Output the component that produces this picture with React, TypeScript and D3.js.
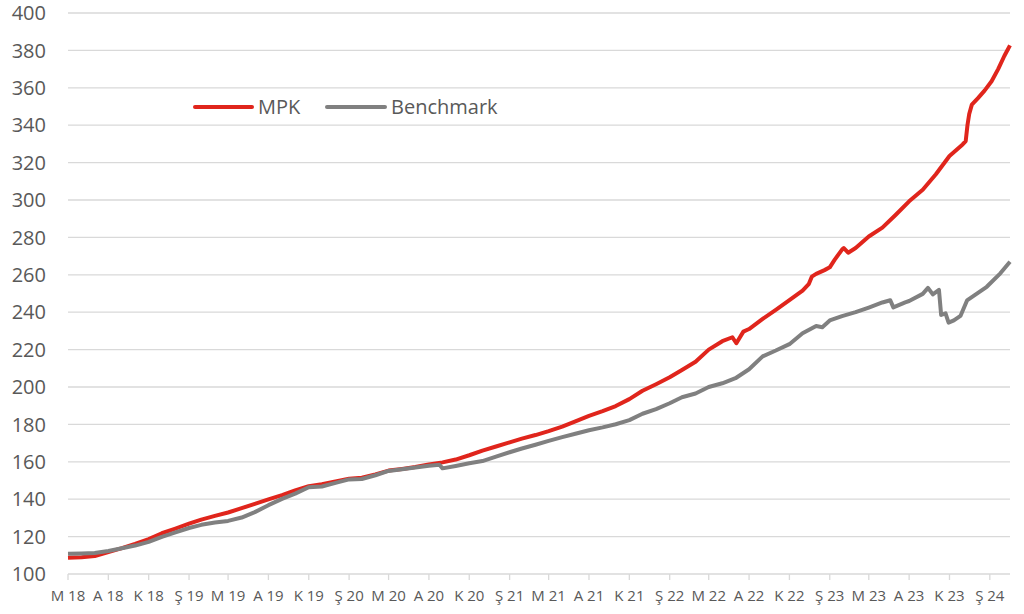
import React from 'react';
import * as d3 from 'd3';

// MPK index
const mpkDates = [
  '2018-05-01', '2018-06-01', '2018-07-01', '2018-08-01', '2018-09-01', '2018-10-01', '2018-11-01', '2018-12-01',
  '2019-01-01', '2019-02-01', '2019-03-01', '2019-04-01', '2019-05-01', '2019-06-01', '2019-07-01', '2019-08-01',
  '2019-09-01', '2019-10-01', '2019-11-01', '2019-12-01', '2020-01-01', '2020-02-01', '2020-03-01', '2020-04-01',
  '2020-05-01', '2020-06-01', '2020-07-01', '2020-08-01', '2020-09-01', '2020-10-01', '2020-11-01', '2020-12-01',
  '2021-01-01', '2021-02-01', '2021-03-01', '2021-04-01', '2021-05-01', '2021-06-01', '2021-07-01', '2021-08-01',
  '2021-09-01', '2021-10-01', '2021-11-01', '2021-12-01', '2022-01-01', '2022-02-01', '2022-03-01', '2022-04-01',
  '2022-05-01', '2022-06-01', '2022-06-24', '2022-07-03', '2022-07-19', '2022-08-01', '2022-09-01', '2022-10-01',
  '2022-11-01', '2022-12-01', '2022-12-15', '2022-12-22', '2023-01-01', '2023-01-20', '2023-02-01', '2023-02-12',
  '2023-03-01', '2023-03-05', '2023-03-15', '2023-04-01', '2023-05-01', '2023-06-01', '2023-07-01', '2023-08-01',
  '2023-09-01', '2023-10-01', '2023-11-01', '2023-12-01', '2023-12-08', '2023-12-12', '2023-12-16', '2023-12-22',
  '2024-01-05', '2024-01-20', '2024-02-05', '2024-02-20', '2024-03-05', '2024-03-18',
];
const mpkValues = [
  108.7, 109.0, 109.6, 111.7, 113.8, 116.1, 118.7, 121.8,
  124.3, 126.9, 129.1, 131.1, 132.9, 135.2, 137.5, 139.9,
  142.2, 144.7, 147.0, 148.0, 149.5, 151.0, 151.5, 153.3,
  155.3, 156.2, 157.2, 158.6, 159.7, 161.2, 163.5, 166.0,
  168.2, 170.4, 172.4, 174.3, 176.4, 178.8, 181.6, 184.6,
  187.1, 189.8, 193.5, 198.0, 201.5, 205.2, 209.1, 213.5,
  220.0, 224.5, 226.6, 223.4, 229.6, 231.0, 236.4, 241.3,
  246.5, 251.5, 255.0, 259.0, 260.5, 262.5, 264.0, 268.0,
  273.5, 274.3, 271.8, 274.3, 280.5, 285.2, 292.0, 299.3,
  305.5, 313.8, 323.5, 329.7, 331.5, 340.0, 346.0, 351.0,
  354.5, 358.5, 363.5, 370.0, 377.0, 382.7,
];

// Benchmark index
const benchDates = [
  '2018-05-01', '2018-06-01', '2018-07-01', '2018-08-01', '2018-09-01', '2018-10-01', '2018-11-01', '2018-12-01',
  '2019-01-01', '2019-02-01', '2019-03-01', '2019-04-01', '2019-05-01', '2019-06-01', '2019-07-01', '2019-08-01',
  '2019-09-01', '2019-10-01', '2019-11-01', '2019-12-01', '2020-01-01', '2020-02-01', '2020-03-01', '2020-04-01',
  '2020-05-01', '2020-06-01', '2020-07-01', '2020-08-01', '2020-08-25', '2020-09-01', '2020-10-01', '2020-11-01',
  '2020-12-01', '2021-01-01', '2021-02-01', '2021-03-01', '2021-04-01', '2021-05-01', '2021-06-01', '2021-07-01',
  '2021-08-01', '2021-09-01', '2021-10-01', '2021-11-01', '2021-12-01', '2022-01-01', '2022-02-01', '2022-03-01',
  '2022-04-01', '2022-05-01', '2022-06-01', '2022-07-01', '2022-08-01', '2022-09-01', '2022-10-01', '2022-11-01',
  '2022-12-01', '2023-01-01', '2023-01-15', '2023-02-01', '2023-03-01', '2023-04-01', '2023-05-01', '2023-06-01',
  '2023-06-19', '2023-06-26', '2023-07-23', '2023-08-01', '2023-09-01', '2023-09-13', '2023-09-24', '2023-10-08',
  '2023-10-13', '2023-10-23', '2023-10-30', '2023-11-11', '2023-11-26', '2023-12-11', '2023-12-26', '2024-01-25',
  '2024-02-25', '2024-03-18',
];
const benchValues = [
  110.8, 111.0, 111.2, 112.3, 113.8, 115.2, 117.2, 119.9,
  122.3, 124.6, 126.3, 127.5, 128.4, 130.2, 133.1, 136.8,
  140.2, 143.0, 146.4, 146.8, 148.7, 150.6, 150.8, 152.8,
  155.1, 156.0, 156.9, 157.9, 158.4, 156.5, 157.8, 159.2,
  160.4, 162.8, 165.1, 167.1, 169.1, 171.2, 173.2, 175.0,
  176.9, 178.4, 180.1, 182.3, 185.7, 188.2, 191.3, 194.5,
  196.5, 200.0, 202.0, 204.7, 209.5, 216.4, 219.5, 222.9,
  228.7, 232.6, 232.0, 235.6, 237.9, 240.0, 242.5, 245.2,
  246.4, 242.6, 245.3, 246.0, 249.8, 253.0, 249.5, 251.9,
  238.5, 239.4, 234.4, 235.6, 238.0, 246.3, 248.7, 253.6,
  260.8, 267.0,
];

// quarterly axis labels (Turkish month initials), starting May 2018
const xTickLabels = [
  'M 18', 'A 18', 'K 18', 'Ş 19', 'M 19', 'A 19', 'K 19', 'Ş 20', 'M 20', 'A 20', 'K 20', 'Ş 21',
  'M 21', 'A 21', 'K 21', 'Ş 22', 'M 22', 'A 22', 'K 22', 'Ş 23', 'M 23', 'A 23', 'K 23', 'Ş 24',
];
const yTicks = [100, 120, 140, 160, 180, 200, 220, 240, 260, 280, 300, 320, 340, 360, 380, 400];

const seriesNames = ['MPK', 'Benchmark'];
const seriesColors = ['#e0251c', '#808080'];

const W = 1024;
const H = 614;
const left = 68;
const right = 1010;
const top = 13;
const bottom = 574;

const parse = d3.timeParse('%Y-%m-%d');
const font = '"Open Sans", "Noto Sans", sans-serif';

export default function App() {
  const x = d3.scaleTime()
    .domain([parse('2018-05-01'), parse('2024-03-18')])
    .range([left, right]);
  const y = d3.scaleLinear().domain([100, 400]).range([bottom, top]);

  const tickDates = d3.timeMonth.range(parse('2018-05-01'), parse('2024-03-01'), 3);

  const mpk = mpkDates.map((d, i) => ({ date: parse(d), value: mpkValues[i] }));
  const bench = benchDates.map((d, i) => ({ date: parse(d), value: benchValues[i] }));

  const line = d3.line<{ date: Date; value: number }>()
    .x(d => x(d.date))
    .y(d => y(d.value));

  return (
    <svg width={W} height={H} style={{ position: 'absolute', left: 0, top: 0, background: '#fff' }}>
      {/* gridlines */}
      {yTicks.map(t => (
        <line key={t} x1={left} x2={right} y1={y(t)} y2={y(t)} stroke="#d9d9d9" strokeWidth={1.3} />
      ))}
      {/* x axis ticks */}
      {tickDates.map((d, i) => (
        <line key={i} x1={x(d)} x2={x(d)} y1={bottom} y2={bottom + 6} stroke="#d9d9d9" strokeWidth={1.3} />
      ))}
      {/* y labels */}
      {yTicks.map(t => (
        <text key={t} x={46} y={y(t)} dy="0.36em" textAnchor="end" fontFamily={font} fontSize={20} fill="#595959">
          {t}
        </text>
      ))}
      {/* x labels */}
      {tickDates.map((d, i) => (
        <text key={i} x={x(d)} y={601} textAnchor="middle" fontFamily={font} fontSize={15} fill="#595959">
          {xTickLabels[i]}
        </text>
      ))}
      {/* series */}
      <path d={line(mpk) ?? ''} fill="none" stroke={seriesColors[0]} strokeWidth={4} strokeLinejoin="round" />
      <path d={line(bench) ?? ''} fill="none" stroke={seriesColors[1]} strokeWidth={4} strokeLinejoin="round" />
      {/* legend */}
      <g fontFamily={font} fontSize={20} fill="#595959">
        <line x1={195} x2={252} y1={107} y2={107} stroke={seriesColors[0]} strokeWidth={4} strokeLinecap="round" />
        <text x={258} y={107} dy="0.36em">{seriesNames[0]}</text>
        <line x1={327} x2={385} y1={107} y2={107} stroke={seriesColors[1]} strokeWidth={4} strokeLinecap="round" />
        <text x={391} y={107} dy="0.36em">{seriesNames[1]}</text>
      </g>
    </svg>
  );
}
